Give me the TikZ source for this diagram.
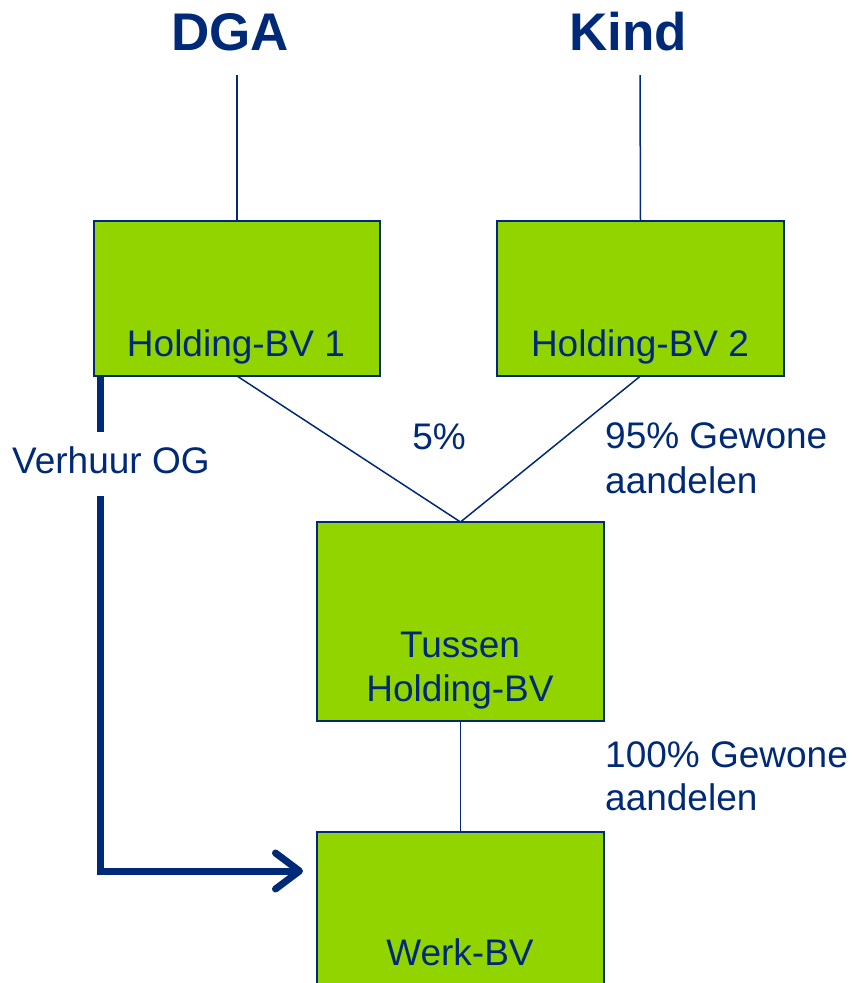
\documentclass[tikz,border=0pt]{standalone}
\usepackage{fontspec}
\setmainfont{Liberation Sans}
\usetikzlibrary{arrows.meta}
\definecolor{navy}{RGB}{0,42,120}
\definecolor{lgreen}{RGB}{146,212,0}
\tikzset{
  box/.style={draw=navy, fill=lgreen, line width=1.5pt, inner sep=0pt, outer sep=0pt},
  txt/.style={text=navy, font=\fontsize{37}{44}\selectfont, inner sep=0pt, anchor=base},
  ttl/.style={text=navy, font=\fontsize{53}{60}\selectfont\bfseries, inner sep=0pt, anchor=base},
  conn/.style={draw=navy, line width=1.5pt},
  thick arrow/.style={draw=navy, line width=7pt},
}
\begin{document}
\begin{tikzpicture}[x=1pt,y=-1pt]
\useasboundingbox (0,0) rectangle (854,983);
\clip (0,0) rectangle (854,983);
% boxes
\node[box, minimum width=286pt, minimum height=155pt] (h1) at (237,298.5) {};
\node[box, minimum width=287pt, minimum height=155pt] (h2) at (640.5,298.5) {};
\node[box, minimum width=287pt, minimum height=199pt] (tu) at (460.5,621.5) {};
\node[box, minimum width=287pt, minimum height=220pt] (wk) at (460.5,942) {};
% titles
\node[ttl] (dga) at (230,50) {DGA};
\node[ttl] (kind) at (628,50) {Kind};
% box texts
\node[txt] (th1) at (236,356) {Holding-BV 1};
\node[txt] (th2) at (640,356) {Holding-BV 2};
\node[txt] (ttu1) at (460,657) {Tussen};
\node[txt] (ttu2) at (460,701) {Holding-BV};
\node[txt] (twk) at (460,965) {Werk-BV};
% labels
\node[txt] (p5) at (439,449) {5\%};
\node[txt, anchor=base west] (p95a) at (605,448) {95\% Gewone};
\node[txt, anchor=base west] (p95b) at (605,493) {aandelen};
\node[txt, anchor=base west] (p100a) at (605,767) {100\% Gewone};
\node[txt, anchor=base west] (p100b) at (605,810) {aandelen};
\node[txt, anchor=base west] (verh) at (12,473) {Verhuur OG};
% connector anchors
\coordinate (d1) at (237,75);
\coordinate (k1) at (640,75);
\coordinate (a0) at (100,376);
\coordinate (a1) at (100,432);
\coordinate (a2) at (100,496);
\coordinate (a3) at (303,871);
% connectors
\draw[conn] (d1) -- (h1.north);
\draw[conn] (k1) -- (h2.north);
\draw[conn] (h1.south) -- (tu.north);
\draw[conn] (h2.south) -- (tu.north);
\draw[conn] (tu.south) -- (wk.north);
\draw[thick arrow] (a0) -- (a1);
\draw[thick arrow, -{Straight Barb[length=24pt,width=36pt,round]}] (a2) |- (a3);
\end{tikzpicture}
\end{document}
